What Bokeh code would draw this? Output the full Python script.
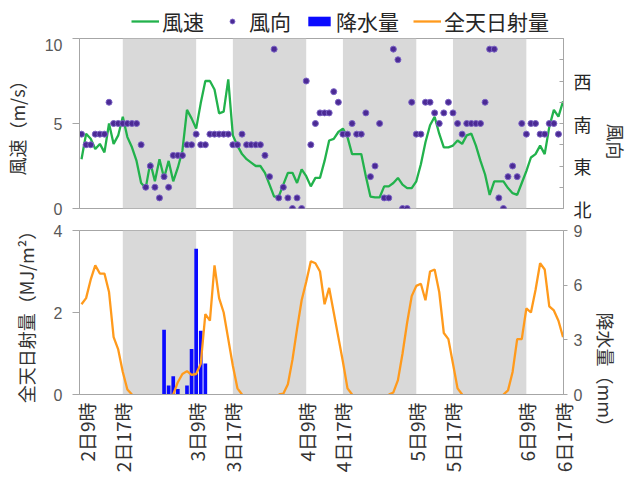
import math
import numpy as np
from bokeh.plotting import figure
from bokeh.models import (Range1d, LinearAxis, FixedTicker, BoxAnnotation,
                          Legend, LegendItem, ColumnDataSource)
from bokeh.layouts import column
from bokeh.embed import file_html
from bokeh.resources import INLINE

FONT = "Noto Sans CJK JP"
NUMFONT = "Liberation Sans"

# hours counted from 2日0時 ; data hourly from 2日8時 to 6日17時
hours = list(range(8, 114))

wind_speed = [2.9, 4.4, 4.1, 3.5, 3.8, 3.3, 5.0, 3.8, 4.3, 5.4,
              4.2, 3.6, 2.8, 1.5, 1.2, 2.7, 1.6, 2.9, 1.8, 2.8,
              1.6, 2.4, 3.4, 5.8, 5.3, 4.7, 6.2, 7.5, 7.5, 7.0,
              5.6, 5.7, 7.6, 4.3, 3.7, 3.2, 2.9, 2.7, 2.5, 2.5,
              2.1, 1.4, 0.7, 0.7, 1.4, 2.1, 2.1, 1.5, 2.3, 1.9,
              1.3, 1.8, 1.8, 2.8, 4.0, 4.1, 4.5, 4.7, 4.2, 3.2,
              3.2, 3.2, 1.9, 0.7, 0.65, 0.65, 1.3, 1.3, 1.5, 1.8,
              1.4, 1.2, 1.2, 1.6, 2.6, 3.9, 4.9, 5.4, 4.4, 3.6,
              3.6, 3.7, 4.0, 3.8, 4.3, 4.4, 3.7, 2.8, 2.0, 0.8,
              1.6, 1.6, 1.6, 1.2, 0.9, 0.8, 1.5, 2.2, 3.0, 3.2,
              3.7, 3.2, 4.8, 5.8, 5.4, 6.3]

# wind direction in degrees (0 = 北, 90 = 東, 180 = 南, 270 = 西)
wind_dir = [157.5, 135, 135, 157.5, 157.5, 157.5, 225, 180, 180, 180,
            180, 180, 180, 135, 45, 90, 45, 22.5, 67.5, 45,
            112.5, 112.5, 112.5, 135, 135, 157.5, 135, 135, 157.5, 157.5,
            157.5, 157.5, 157.5, 135, 135, 157.5, 135, 135, 135, 135,
            112.5, 67.5, 337.5, 22.5, 45, 22.5, 0, 22.5, 0, 270,
            135, 180, 202.5, 202.5, 202.5, 247.5, 225, 157.5, 157.5, 180,
            157.5, 157.5, 202.5, 67.5, 90, 180, 22.5, 22.5, 337.5, 315,
            0, 0, 225, 157.5, 157.5, 225, 225, 202.5, 180, 202.5,
            225, 202.5, 180, 157.5, 180, 180, 180, 180, 225, 337.5,
            337.5, 22.5, 0, 67.5, 90, 67.5, 180, 157.5, 180, 180,
            157.5, 157.5, 180, 180, 157.5, None]

# global solar radiation (MJ/m2), None = night (no value drawn)
radiation = [2.2, 2.35, 2.8, 3.15, 2.95, 2.95, 2.5, 1.4, 1.1, 0.55,
             0.12, 0.0, None, None, None, None, None, None, None, None,
             0.0, 0.3, 0.5, 0.57, 0.48, 0.5, 0.75, 1.96, 1.8, 3.15,
             2.35, 2.0, 1.35, 0.7, 0.15, 0.0, None, None, None, None,
             None, None, None, 0.0, 0.02, 0.25, 0.85, 1.6, 2.3, 2.75,
             3.25, 3.2, 3.0, 2.2, 2.6, 2.0, 1.4, 0.8, 0.15, 0.0,
             None, None, None, None, None, None, None, 0.0, 0.05, 0.35,
             1.0, 1.75, 2.4, 2.65, 2.7, 2.3, 3.0, 3.05, 2.5, 1.5,
             1.35, 0.75, 0.15, 0.0, None, None, None, None, None, None,
             None, None, 0.0, 0.1, 0.55, 1.35, 1.35, 2.1, 2.0, 2.55,
             3.2, 3.05, 2.15, 2.05, 1.8, 1.4]

rain_hours = [26, 27, 28, 29, 31, 32, 33, 34, 35]
rain_mm = [3.55, 0.5, 1.0, 0.3, 0.5, 2.5, 8.0, 3.5, 1.7]

night_start = [17, 41, 65, 89]
night_end = [33, 57, 81, 105]

tick_hours = [9, 17, 33, 41, 57, 65, 81, 89, 105, 113]
tick_labels = ["2日9時", "2日17時", "3日9時", "3日17時", "4日9時",
               "4日17時", "5日9時", "5日17時", "6日9時", "6日17時"]

dir_ticks = [0, 45, 90, 135, 180, 225, 270, 315, 360]
dir_names = {0: "北", 90: "東", 180: "南", 270: "西"}

series_names = ["風速", "風向", "降水量", "全天日射量"]

GREEN = "#22b24c"
PURPLE = "#4b2a94"
BLUE = "#0a0aff"
ORANGE = "#ff9a1c"
BAND = "#d9d9d9"
AXIS = "#a6a6a6"

X0, X1 = 7.56, 113.1
FRAME_W = 484
LEFT_B = 75
RIGHT_B = 57

radiation_arr = np.array(radiation, dtype=float)
wind_dir_arr = np.array(wind_dir, dtype=float)


def style_axis(ax, size="16px", color="#595959", font=NUMFONT):
    ax.axis_line_color = AXIS
    ax.major_tick_line_color = AXIS
    ax.minor_tick_line_color = None
    ax.major_label_text_font = font
    ax.major_label_text_font_size = size
    ax.major_label_text_color = color
    ax.axis_label_text_font = FONT
    ax.axis_label_text_font_size = "18px"
    ax.axis_label_text_font_style = "normal"
    ax.axis_label_text_color = "#333333"


# ---------------- legend strip (series kept outside its view range) ----------------
leg = figure(frame_width=FRAME_W, frame_height=38, x_range=Range1d(X0, X1),
             y_range=Range1d(1000, 1001),
             output_backend="svg", toolbar_location=None,
             min_border_left=LEFT_B, min_border_right=RIGHT_B, min_border_top=0,
             min_border_bottom=0)
leg.axis.visible = False
leg.grid.visible = False
leg.outline_line_color = None
lr1 = leg.line(hours, wind_speed, line_color=GREEN, line_width=2.3)
lr2 = leg.scatter(hours, wind_dir_arr, size=7, fill_color=PURPLE, line_color="#7a62c4")
lr3 = leg.vbar(x=rain_hours, top=rain_mm, width=0.8, fill_color=BLUE, line_color=None)
lr4 = leg.line(hours, radiation_arr, line_color=ORANGE, line_width=2.3)
legend = Legend(items=[LegendItem(label=n, renderers=[r]) for n, r in
                       zip(series_names, [lr1, lr2, lr3, lr4])],
                orientation="horizontal", location=(52, 2),
                background_fill_alpha=0, border_line_alpha=0,
                padding=0, margin=0, spacing=14, glyph_width=28,
                glyph_height=12, label_height=20, label_standoff=3,
                label_text_font=FONT, label_text_font_size="21px",
                label_text_color="#262626")
leg.add_layout(legend, "center")

# ---------------- top panel: wind ----------------
top = figure(frame_width=FRAME_W, frame_height=170, x_range=Range1d(X0, X1),
             y_range=Range1d(0, 10), output_backend="svg", toolbar_location=None,
             min_border_left=LEFT_B, min_border_top=0, min_border_bottom=14,
             min_border_right=RIGHT_B)
top.extra_y_ranges = {"dir": Range1d(0, 360)}
top.grid.visible = False
top.xaxis.visible = False
top.outline_line_color = AXIS
top.border_fill_color = "white"

for s, e in zip(night_start, night_end):
    top.add_layout(BoxAnnotation(left=s, right=e, fill_color=BAND, fill_alpha=1,
                                 line_alpha=0, level="underlay"))

src_w = ColumnDataSource(dict(h=hours, ws=wind_speed, wd=wind_dir_arr))
top.line("h", "ws", source=src_w, line_color=GREEN, line_width=2.3)
top.scatter("h", "wd", source=src_w, y_range_name="dir", size=6,
            fill_color=PURPLE, line_color="#7a62c4", line_width=1)

ly = top.yaxis[0]
ly.ticker = FixedTicker(ticks=[0, 5, 10])
ly.major_tick_out = 7
ly.major_tick_in = 0
ly.major_label_standoff = 10
ly.axis_label = "風速（m/s）"
ly.axis_label_standoff = 12
style_axis(ly)

ry = LinearAxis(y_range_name="dir",
                ticker=FixedTicker(ticks=dir_ticks),
                major_label_overrides={t: dir_names.get(t, "") for t in dir_ticks})
ry.major_tick_in = 4
ry.major_tick_out = 0
ry.major_label_standoff = 10
ry.axis_label = "風向"
ry.axis_label_standoff = 22
style_axis(ry, size="18px", color="#262626", font=FONT)
ry.axis_label_orientation = -math.pi / 2
top.add_layout(ry, "right")

# ---------------- bottom panel: radiation & rain ----------------
bot = figure(frame_width=FRAME_W, frame_height=164, x_range=Range1d(X0, X1),
             y_range=Range1d(0, 4), output_backend="svg", toolbar_location=None,
             min_border_left=LEFT_B, min_border_top=8, min_border_right=RIGHT_B,
             min_border_bottom=5)
bot.extra_y_ranges = {"rain": Range1d(0, 9)}
bot.grid.visible = False
bot.outline_line_color = AXIS
bot.border_fill_color = "white"

for s, e in zip(night_start, night_end):
    bot.add_layout(BoxAnnotation(left=s, right=e, fill_color=BAND, fill_alpha=1,
                                 line_alpha=0, level="underlay"))

bot.vbar(x=rain_hours, top=rain_mm, width=0.8, y_range_name="rain",
         fill_color=BLUE, line_color=None)
bot.line(hours, radiation_arr, line_color=ORANGE, line_width=2.3)

bl = bot.yaxis[0]
bl.ticker = FixedTicker(ticks=[0, 2, 4])
bl.major_tick_out = 7
bl.major_tick_in = 0
bl.major_label_standoff = 10
bl.axis_label = "全天日射量（MJ/m²）"
bl.axis_label_standoff = 12
style_axis(bl)

br = LinearAxis(y_range_name="rain", ticker=FixedTicker(ticks=[0, 3, 6, 9]))
br.major_tick_out = 4
br.major_tick_in = 0
br.major_label_standoff = 6
br.axis_label = "降水量（mm）"
br.axis_label_standoff = 21
style_axis(br)
br.axis_label_orientation = -math.pi / 2
bot.add_layout(br, "right")

bx = bot.xaxis[0]
bx.ticker = FixedTicker(ticks=tick_hours)
bx.major_label_overrides = {h: l for h, l in zip(tick_hours, tick_labels)}
bx.major_label_orientation = math.pi / 2
bx.major_tick_out = 0
bx.major_tick_in = 0
bx.major_label_standoff = 8
style_axis(bx, size="19px", color="#333333", font=FONT)

layout = column(leg, top, bot, spacing=0)
open("out.html", "w").write(file_html(layout, INLINE))
